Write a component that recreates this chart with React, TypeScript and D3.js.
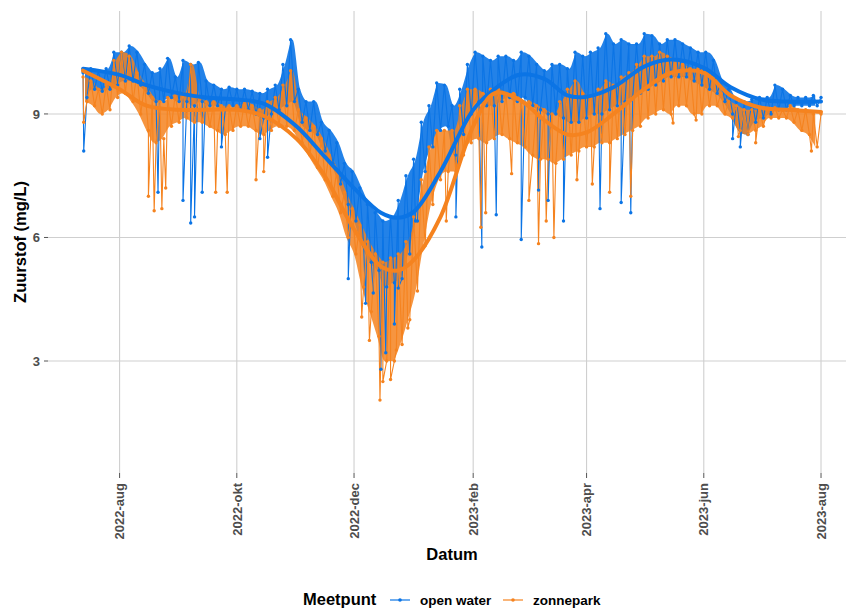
import * as d3 from "d3";
import { useEffect, useRef } from "react";

const W = 846;
const H = 609;

// raw measurements, read as a band: high and low value every 4 days, plus the spikes
const bandStart = "2022-07-13";
const bandStepDays = 4;

const openHigh = [
  10.0, 10.1, 10.05, 10.1, 10.5, 10.5, 10.65, 10.5, 10.2, 10.0,
  10.1, 10.35, 9.9, 10.3, 10.2, 10.25, 9.8, 9.7, 9.6, 9.65,
  9.6, 9.6, 9.55, 9.5, 9.6, 9.7, 10.2, 10.8, 9.6, 9.3,
  9.3, 8.8, 8.6, 8.3, 7.8, 7.6, 7.2, 6.8, 6.6, 6.4,
  6.5, 6.9, 7.5, 7.9, 8.8, 9.2, 9.75, 9.7, 9.2, 9.6,
  10.2, 10.5, 10.4, 10.3, 10.4, 10.4, 10.3, 10.5, 10.4, 10.2,
  10.05, 10.2, 10.2, 10.1, 10.5, 10.4, 10.5, 10.6, 10.95, 10.7,
  10.8, 10.7, 10.7, 10.95, 10.9, 10.7, 10.8, 10.8, 10.7, 10.6,
  10.5, 10.5, 10.3, 9.8, 9.6, 9.3, 9.3, 9.35, 9.4, 9.4,
  9.7, 9.6, 9.45, 9.4, 9.4, 9.45, 9.4,
];
const openLow = [
  9.4, 9.6, 9.55, 9.6, 9.7, 9.8, 9.8, 9.7, 9.5, 9.3,
  9.3, 9.4, 9.3, 9.3, 9.2, 9.3, 9.2, 9.2, 9.1, 9.2,
  9.1, 9.1, 9.0, 8.9, 9.0, 9.1, 9.2, 9.3, 8.8, 8.6,
  8.5, 8.1, 7.8, 7.3, 6.8, 6.4, 5.8, 5.4, 5.2, 4.8,
  4.9, 5.0, 5.6, 6.4, 7.6, 8.2, 8.6, 8.7, 8.0, 8.5,
  9.0, 9.3, 9.2, 9.2, 9.3, 9.4, 9.3, 9.4, 9.2, 9.1,
  9.0, 9.0, 8.9, 8.8, 8.8, 8.9, 9.0, 9.0, 9.1, 9.2,
  9.3, 9.4, 9.5, 9.6, 9.7, 9.8, 9.9, 9.9, 9.9, 9.8,
  9.7, 9.6, 9.5, 9.3, 9.0, 8.6, 8.5, 8.8, 8.9, 9.0,
  9.1, 9.1, 9.2, 9.2, 9.2, 9.2,
];
const parkHigh = [
  9.9, 9.8, 9.6, 9.7, 10.3, 10.5, 10.4, 10.0, 9.7, 9.4,
  9.3, 9.4, 9.5, 9.5, 10.2, 9.4, 9.3, 9.3, 9.2, 9.2,
  9.2, 9.3, 9.2, 9.1, 9.3, 9.4, 9.7, 10.05, 9.1, 8.9,
  8.7, 8.4, 8.0, 7.6, 7.1, 6.7, 6.3, 5.9, 5.6, 5.4,
  5.5, 5.6, 5.9, 6.5, 7.4, 8.2, 8.6, 8.6, 8.6, 9.2,
  9.6, 9.6, 9.5, 9.6, 9.6, 9.5, 9.5, 9.3, 9.3, 9.2,
  9.1, 9.0, 9.3, 9.6, 9.8, 9.5, 9.4, 9.6, 9.8, 9.7,
  9.9, 10.0, 10.2, 10.4, 10.4, 10.5, 10.4, 10.3, 10.2, 10.1,
  10.1, 10.0, 9.9, 9.5, 9.3, 9.2, 9.1, 9.1, 9.1, 9.1,
  9.15, 9.1, 9.2, 9.1, 9.1, 9.0, 9.0,
];
const parkLow = [
  9.3, 9.2, 9.0, 9.1, 9.4, 9.5, 9.3, 9.0, 8.6, 8.3,
  8.4, 8.7, 8.8, 8.9, 8.8, 8.8, 8.7, 8.6, 8.5, 8.6,
  8.7, 8.7, 8.6, 8.5, 8.6, 8.7, 8.7, 8.6, 8.3, 8.0,
  7.7, 7.4, 7.0, 6.6, 6.0, 5.6, 4.8, 4.2, 3.6, 3.0,
  3.0, 3.4, 4.0, 4.7, 5.8, 6.8, 7.4, 7.6, 7.6, 8.0,
  8.3, 8.4, 8.3, 8.4, 8.5, 8.4, 8.3, 8.2, 8.0, 7.9,
  7.9, 7.8, 7.9, 8.0, 8.1, 8.2, 8.2, 8.3, 8.3, 8.4,
  8.5, 8.6, 8.7, 8.9, 9.0, 9.1, 9.0, 9.2, 9.2, 9.0,
  9.0, 9.2, 9.2, 9.0, 8.9, 8.6, 8.5, 8.6, 8.7, 8.9,
  8.9, 8.9, 8.8, 8.6, 8.5, 8.2,
];

const openSpikes: [string, number][] = [
  ["2022-07-13T08", 8.1], ["2022-08-21", 7.1], ["2022-09-03", 6.9], ["2022-09-07", 6.35],
  ["2022-09-09", 6.5], ["2022-09-13", 7.1], ["2022-09-23", 8.2], ["2022-10-13", 8.4],
  ["2022-10-17", 7.95], ["2022-11-28", 5.0], ["2022-12-07", 4.4], ["2022-12-11", 4.65],
  ["2022-12-15", 2.8], ["2022-12-17T12", 3.2], ["2022-12-22", 3.9], ["2022-12-24", 4.77],
  ["2023-01-02", 6.4], ["2023-01-23", 6.5], ["2023-02-05T12", 5.77], ["2023-02-13", 6.55],
  ["2023-02-26", 5.95], ["2023-03-07", 7.15], ["2023-03-12", 6.9], ["2023-03-20", 6.4],
  ["2023-04-08", 6.7], ["2023-04-19", 6.85], ["2023-04-24", 6.6], ["2023-06-16", 8.4],
  ["2023-06-20", 8.2],
];
const parkSpikes: [string, number][] = [
  ["2022-07-13T08", 8.8], ["2022-08-16", 7.0], ["2022-08-19", 6.65], ["2022-08-23", 6.7],
  ["2022-08-25", 7.2], ["2022-09-20", 7.1], ["2022-09-26", 7.1], ["2022-10-11", 7.4],
  ["2022-10-15", 7.6], ["2022-12-05", 4.07], ["2022-12-09", 3.5], ["2022-12-14T12", 2.05],
  ["2022-12-16", 2.5], ["2022-12-20", 2.55], ["2022-12-23", 3.27], ["2022-12-29", 3.8],
  ["2023-01-18", 6.4], ["2023-02-05", 6.25], ["2023-02-07T12", 6.6], ["2023-02-21", 7.55],
  ["2023-03-02", 6.9], ["2023-03-07", 5.85], ["2023-03-11", 6.4], ["2023-03-15", 6.0],
  ["2023-03-27", 7.4], ["2023-04-04", 7.3], ["2023-04-13", 7.1], ["2023-04-24", 7.0],
  ["2023-05-16", 8.78], ["2023-05-28", 8.85], ["2023-06-19", 8.45], ["2023-06-28", 8.3],
  ["2023-07-27", 8.1],
];

// loess-like trend lines
const smoothDates = [
  "2022-07-13", "2022-08-01", "2022-08-15", "2022-09-01", "2022-09-15", "2022-10-01",
  "2022-10-15", "2022-11-01", "2022-11-15", "2022-12-01", "2022-12-15", "2022-12-24",
  "2023-01-01", "2023-01-15", "2023-02-01", "2023-02-12", "2023-02-25", "2023-03-10",
  "2023-03-22", "2023-04-01", "2023-04-15", "2023-05-01", "2023-05-15", "2023-06-01",
  "2023-06-15", "2023-07-01", "2023-07-15", "2023-08-01",
];
const openSmooth = [
  10.1, 9.95, 9.7, 9.5, 9.4, 9.35, 9.25, 8.7, 8.0, 7.2, 6.6, 6.48, 6.62, 7.6,
  9.1, 9.6, 9.95, 9.85, 9.45, 9.42, 9.65, 10.15, 10.32, 10.12, 9.65, 9.35, 9.3, 9.3,
];
const parkSmooth = [
  10.05, 9.6, 9.2, 9.1, 9.1, 9.1, 8.95, 8.4, 7.55, 6.2, 5.3, 5.2, 5.45, 6.5,
  8.7, 9.5, 9.35, 8.85, 8.5, 8.55, 9.0, 9.6, 10.0, 10.0, 9.45, 9.15, 9.1, 9.05,
];

const tickDates = ["2022-08-01", "2022-10-01", "2022-12-01", "2023-02-01", "2023-04-01", "2023-06-01", "2023-08-01"];
const tickLabels = ["2022-aug", "2022-okt", "2022-dec", "2023-feb", "2023-apr", "2023-jun", "2023-aug"];
const yTicks = [3, 6, 9];

const seriesNames = ["open water", "zonnepark"];
const colors = ["#0b74e5", "#f5831f"];

const parseDay = d3.timeParse("%Y-%m-%d");
const parseHour = d3.timeParse("%Y-%m-%dT%H");
const toDate = (s: string) => (s.includes("T") ? parseHour(s) : parseDay(s)) as Date;

type Pt = { date: Date; value: number };
type Band = { date: Date; hi: number; lo: number };

function buildSeries(high: number[], low: number[], spikes: [string, number][]): Pt[] {
  const start = toDate(bandStart);
  const pts: Pt[] = [];
  high.forEach((v, i) => pts.push({ date: d3.timeDay.offset(start, i * bandStepDays), value: v }));
  low.forEach((v, i) => pts.push({ date: d3.timeHour.offset(start, i * bandStepDays * 24 + 48), value: v }));
  spikes.forEach(([d, v]) => pts.push({ date: toDate(d), value: v }));
  return pts.sort((a, b) => +a.date - +b.date);
}

function buildBand(high: number[], low: number[]): Band[] {
  const start = toDate(bandStart);
  return low.map((lo, i) => ({
    date: d3.timeHour.offset(start, i * bandStepDays * 24 + 24),
    hi: high[i],
    lo,
  }));
}

const FONT = "'Liberation Sans', Arial, Helvetica, sans-serif";

const Chart = () => {
  const ref = useRef<SVGSVGElement | null>(null);

  useEffect(() => {
    const svg = d3.select(ref.current);
    svg.selectAll("*").remove();

    const panel = { left: 48, right: 846, top: 11, bottom: 473 };

    const x = d3
      .scaleTime()
      .domain([toDate("2022-06-24T18"), toDate("2023-08-14")])
      .range([panel.left, panel.right]);
    const y = d3.scaleLinear().domain([0.28, 11.5]).range([panel.bottom, panel.top]);

    // grid
    const grid = svg.append("g");
    yTicks.forEach(t => {
      grid.append("line")
        .attr("x1", panel.left).attr("x2", panel.right)
        .attr("y1", y(t)).attr("y2", y(t))
        .attr("stroke", "#cfcfcf").attr("stroke-width", 1.1);
    });
    tickDates.forEach(t => {
      grid.append("line")
        .attr("x1", x(toDate(t))).attr("x2", x(toDate(t)))
        .attr("y1", panel.top).attr("y2", panel.bottom)
        .attr("stroke", "#cfcfcf").attr("stroke-width", 1.1);
    });

    // axes ticks + labels
    yTicks.forEach(t => {
      svg.append("line")
        .attr("x1", 44).attr("x2", 48).attr("y1", y(t)).attr("y2", y(t))
        .attr("stroke", "#555").attr("stroke-width", 1);
      svg.append("text")
        .attr("x", 40).attr("y", y(t)).attr("dy", "0.36em")
        .attr("text-anchor", "end")
        .attr("font-family", FONT).attr("font-size", 13).attr("font-weight", "bold")
        .attr("fill", "#4d4d4d")
        .text(t);
    });
    tickDates.forEach((t, i) => {
      const px = x(toDate(t));
      svg.append("line")
        .attr("x1", px).attr("x2", px).attr("y1", panel.bottom).attr("y2", panel.bottom + 5)
        .attr("stroke", "#555").attr("stroke-width", 1);
      svg.append("text")
        .attr("transform", `translate(${px + 4.7}, ${panel.bottom + 10}) rotate(-90)`)
        .attr("text-anchor", "end")
        .attr("font-family", FONT).attr("font-size", 13).attr("font-weight", "bold")
        .attr("fill", "#4d4d4d")
        .text(tickLabels[i]);
    });

    svg.append("text")
      .attr("x", (panel.left + panel.right) / 2 + 5).attr("y", 560)
      .attr("text-anchor", "middle")
      .attr("font-family", FONT).attr("font-size", 16.5).attr("font-weight", "bold")
      .attr("fill", "#000")
      .text("Datum");
    svg.append("text")
      .attr("transform", `translate(26, ${(panel.top + panel.bottom) / 2}) rotate(-90)`)
      .attr("text-anchor", "middle")
      .attr("font-family", FONT).attr("font-size", 16.5).attr("font-weight", "bold")
      .attr("fill", "#000")
      .text("Zuurstof (mg/L)");

    // data
    const bands = [buildBand(openHigh, openLow), buildBand(parkHigh, parkLow)];
    const series = [
      buildSeries(openHigh, openLow, openSpikes),
      buildSeries(parkHigh, parkLow, parkSpikes),
    ];
    const area = d3.area<Band>()
      .x(d => x(d.date))
      .y0(d => y(d.lo))
      .y1(d => y(d.hi))
      .curve(d3.curveMonotoneX);
    const line = d3.line<Pt>().x(d => x(d.date)).y(d => y(d.value));

    bands.forEach((b, i) => {
      svg.append("path")
        .attr("d", area(b))
        .attr("fill", colors[i])
        .attr("fill-opacity", i === 0 ? 0.9 : 0.85);
    });
    series.forEach((s, i) => {
      svg.append("path")
        .attr("d", line(s))
        .attr("fill", "none")
        .attr("stroke", colors[i])
        .attr("stroke-width", 1.1)
        .attr("stroke-linejoin", "round");
    });
    series.forEach((s, i) => {
      svg.append("g")
        .selectAll("circle")
        .data(s)
        .join("circle")
        .attr("cx", d => x(d.date))
        .attr("cy", d => y(d.value))
        .attr("r", 1.7)
        .attr("fill", colors[i]);
    });

    // trend lines
    const smoothLine = d3.line<number>()
      .x((_, i) => x(toDate(smoothDates[i])))
      .y(d => y(d))
      .curve(d3.curveCatmullRom.alpha(0.5));
    [openSmooth, parkSmooth].forEach((s, i) => {
      svg.append("path")
        .attr("d", smoothLine(s))
        .attr("fill", "none")
        .attr("stroke", colors[i])
        .attr("stroke-width", 4)
        .attr("stroke-linecap", "round");
    });

    // legend
    const lg = svg.append("g");
    lg.append("text")
      .attr("x", 303).attr("y", 605)
      .attr("font-family", FONT).attr("font-size", 16.5).attr("font-weight", "bold")
      .attr("fill", "#000")
      .text("Meetpunt");
    const keyX = [390, 503];
    seriesNames.forEach((name, i) => {
      lg.append("line")
        .attr("x1", keyX[i]).attr("x2", keyX[i] + 20).attr("y1", 600).attr("y2", 600)
        .attr("stroke", colors[i]).attr("stroke-width", 1.2);
      lg.append("circle")
        .attr("cx", keyX[i] + 10).attr("cy", 600).attr("r", 1.8).attr("fill", colors[i]);
      lg.append("text")
        .attr("x", keyX[i] + 30).attr("y", 604.5)
        .attr("font-family", FONT).attr("font-size", 13.5).attr("font-weight", "bold")
        .attr("fill", "#000")
        .text(name);
    });
  }, []);

  return (
    <svg
      ref={ref}
      width={W}
      height={H}
      style={{ position: "absolute", left: 0, top: 0, background: "#fff" }}
    />
  );
};

export default function App() {
  return <Chart />;
}
